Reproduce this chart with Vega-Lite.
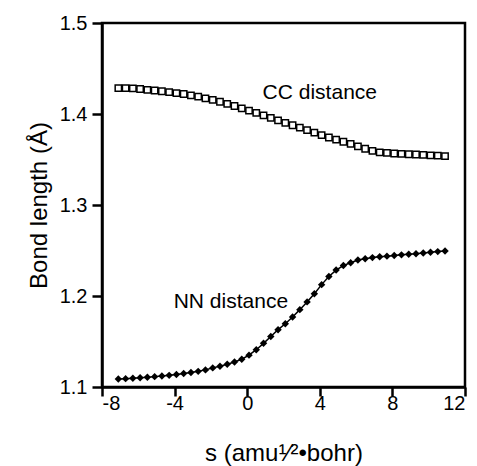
{
  "$schema": "https://vega.github.io/schema/vega-lite/v6.json",
  "autosize": "none",
  "width": 363,
  "height": 364,
  "padding": {"left": 102, "top": 23, "right": 12, "bottom": 79},
  "background": "white",
  "config": {
    "font": "Liberation Sans",
    "view": {"stroke": "black", "strokeWidth": 2.5},
    "axis": {
      "grid": false,
      "domainColor": "black",
      "domainWidth": 2.5,
      "tickColor": "black",
      "tickWidth": 2.5,
      "tickSize": 9,
      "labelFont": "Liberation Sans",
      "labelFontSize": 20,
      "labelColor": "black",
      "titleFont": "Liberation Sans",
      "titleFontSize": 24,
      "titleFontWeight": "normal",
      "titleColor": "black"
    }
  },
  "datasets": {
    "cc": [
      {"s": -7.1, "v": 1.4285}, {"s": -6.7, "v": 1.4285}, {"s": -6.3, "v": 1.4282}, {"s": -5.9, "v": 1.4275},
      {"s": -5.5, "v": 1.4266}, {"s": -5.1, "v": 1.4258}, {"s": -4.7, "v": 1.425}, {"s": -4.3, "v": 1.424},
      {"s": -3.9, "v": 1.423}, {"s": -3.5, "v": 1.422}, {"s": -3.1, "v": 1.4205}, {"s": -2.7, "v": 1.419},
      {"s": -2.3, "v": 1.4172}, {"s": -1.9, "v": 1.4155}, {"s": -1.5, "v": 1.4135}, {"s": -1.1, "v": 1.4112},
      {"s": -0.7, "v": 1.4088}, {"s": -0.3, "v": 1.4062}, {"s": 0.1, "v": 1.4038}, {"s": 0.5, "v": 1.4012},
      {"s": 0.9, "v": 1.3985}, {"s": 1.3, "v": 1.3958}, {"s": 1.7, "v": 1.393}, {"s": 2.1, "v": 1.3903},
      {"s": 2.5, "v": 1.3876}, {"s": 2.9, "v": 1.385}, {"s": 3.3, "v": 1.3822}, {"s": 3.7, "v": 1.3795},
      {"s": 4.1, "v": 1.3768}, {"s": 4.5, "v": 1.3742}, {"s": 4.9, "v": 1.3718}, {"s": 5.3, "v": 1.3695},
      {"s": 5.7, "v": 1.3672}, {"s": 6.1, "v": 1.3645}, {"s": 6.5, "v": 1.3618}, {"s": 6.9, "v": 1.3595},
      {"s": 7.3, "v": 1.3578}, {"s": 7.7, "v": 1.3572}, {"s": 8.1, "v": 1.3566}, {"s": 8.5, "v": 1.3562},
      {"s": 8.9, "v": 1.3558}, {"s": 9.3, "v": 1.3555}, {"s": 9.7, "v": 1.355}, {"s": 10.1, "v": 1.3546},
      {"s": 10.5, "v": 1.3542}, {"s": 10.9, "v": 1.3538}
    ],
    "nn": [
      {"s": -7.1, "v": 1.1088}, {"s": -6.7, "v": 1.1092}, {"s": -6.3, "v": 1.1097}, {"s": -5.9, "v": 1.1102},
      {"s": -5.5, "v": 1.1108}, {"s": -5.1, "v": 1.1114}, {"s": -4.7, "v": 1.112}, {"s": -4.3, "v": 1.1128},
      {"s": -3.9, "v": 1.1138}, {"s": -3.5, "v": 1.1149}, {"s": -3.1, "v": 1.116}, {"s": -2.7, "v": 1.1172},
      {"s": -2.3, "v": 1.1188}, {"s": -1.9, "v": 1.121}, {"s": -1.5, "v": 1.1228}, {"s": -1.1, "v": 1.125},
      {"s": -0.7, "v": 1.1275}, {"s": -0.3, "v": 1.1305}, {"s": 0.1, "v": 1.135}, {"s": 0.5, "v": 1.141},
      {"s": 0.9, "v": 1.148}, {"s": 1.3, "v": 1.1555}, {"s": 1.7, "v": 1.163}, {"s": 2.1, "v": 1.1695},
      {"s": 2.5, "v": 1.177}, {"s": 2.9, "v": 1.185}, {"s": 3.3, "v": 1.1935}, {"s": 3.7, "v": 1.2025},
      {"s": 4.1, "v": 1.2125}, {"s": 4.5, "v": 1.2215}, {"s": 4.9, "v": 1.2285}, {"s": 5.3, "v": 1.2335},
      {"s": 5.7, "v": 1.2365}, {"s": 6.1, "v": 1.2395}, {"s": 6.5, "v": 1.241}, {"s": 6.9, "v": 1.2422},
      {"s": 7.3, "v": 1.2432}, {"s": 7.7, "v": 1.2438}, {"s": 8.1, "v": 1.2445}, {"s": 8.5, "v": 1.2452},
      {"s": 8.9, "v": 1.2458}, {"s": 9.3, "v": 1.2465}, {"s": 9.7, "v": 1.2472}, {"s": 10.1, "v": 1.248},
      {"s": 10.5, "v": 1.2488}, {"s": 10.9, "v": 1.2495}
    ],
    "labels": [
      {"s": 4.0, "v": 1.423, "t": "CC distance"},
      {"s": -0.9, "v": 1.1937, "t": "NN distance"}
    ]
  },
  "encoding": {
    "x": {
      "field": "s", "type": "quantitative",
      "scale": {"domain": [-8, 12], "nice": false, "zero": false},
      "axis": {
        "values": [-8, -4, 0, 4, 8, 12],
        "labelExpr": "'' + datum.value",
        "labelPadding": -3,
        "title": "s (amu¹⁄²•bohr)",
        "titleBaseline": "alphabetic",
        "titleY": 73
      }
    },
    "y": {
      "field": "v", "type": "quantitative",
      "scale": {"domain": [1.1, 1.5], "nice": false, "zero": false},
      "axis": {
        "values": [1.1, 1.2, 1.3, 1.4, 1.5],
        "format": ".1f",
        "labelPadding": 5,
        "tickSize": 10,
        "title": "Bond length (Å)",
        "titleBaseline": "alphabetic",
        "titleX": -56
      }
    }
  },
  "layer": [
    {"data": {"name": "cc"}, "mark": {"type": "line", "color": "black", "strokeWidth": 1.5}},
    {"data": {"name": "cc"}, "mark": {"type": "point", "shape": "square", "size": 40, "filled": true, "fill": "white", "stroke": "black", "strokeWidth": 1.5, "opacity": 1}},
    {"data": {"name": "nn"}, "mark": {"type": "line", "color": "black", "strokeWidth": 1.5}},
    {"data": {"name": "nn"}, "mark": {"type": "point", "shape": "diamond", "size": 55, "filled": true, "color": "black", "opacity": 1}},
    {"data": {"name": "labels"}, "mark": {"type": "text", "font": "Liberation Sans", "fontSize": 21, "color": "black", "align": "center", "baseline": "middle"}, "encoding": {"text": {"field": "t"}}}
  ]
}
